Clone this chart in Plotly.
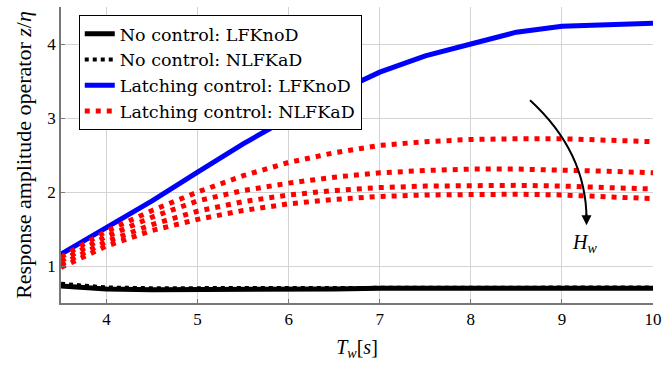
import plotly.graph_objects as go

Tw = [3.5, 4, 4.5, 5, 5.5, 6, 6.5, 7, 7.5, 8, 8.5, 9, 9.5, 10]

nc_lfknod = [0.73, 0.69, 0.68, 0.68, 0.68, 0.69, 0.69, 0.70, 0.70, 0.70, 0.70, 0.70, 0.70, 0.70]
nc_nlfkad = [0.76, 0.71, 0.70, 0.70, 0.70, 0.70, 0.71, 0.71, 0.71, 0.71, 0.71, 0.71, 0.71, 0.71]
lc_lfknod = [1.16, 1.52, 1.88, 2.27, 2.65, 3.00, 3.33, 3.62, 3.84, 4.00, 4.16, 4.24, 4.26, 4.28]
lc_nlfkad = [
    [1.12, 1.47, 1.75, 2.00, 2.22, 2.40, 2.53, 2.63, 2.68, 2.71, 2.72, 2.72, 2.70, 2.68],
    [1.07, 1.40, 1.66, 1.88, 2.02, 2.12, 2.20, 2.26, 2.29, 2.31, 2.31, 2.30, 2.28, 2.26],
    [1.02, 1.33, 1.56, 1.74, 1.87, 1.96, 2.02, 2.06, 2.08, 2.09, 2.09, 2.08, 2.06, 2.04],
    [0.98, 1.27, 1.48, 1.63, 1.75, 1.84, 1.90, 1.94, 1.96, 1.97, 1.97, 1.96, 1.94, 1.91],
]

x_ticks = [4, 5, 6, 7, 8, 9, 10]
y_ticks = [1, 2, 3, 4]

FONT = "Liberation Serif"
LFONT = "DejaVu Serif"

fig = go.Figure()
fig.add_trace(go.Scatter(x=Tw, y=nc_lfknod, mode="lines", name="No control: LFKnoD",
                         line=dict(color="black", width=5)))
fig.add_trace(go.Scatter(x=Tw, y=nc_nlfkad, mode="lines", name="No control: NLFKaD",
                         line=dict(color="black", width=4, dash="4px,4px")))
fig.add_trace(go.Scatter(x=Tw, y=lc_lfknod, mode="lines", name="Latching control: LFKnoD",
                         line=dict(color="#0000ff", width=5)))
for i, ys in enumerate(lc_nlfkad):
    fig.add_trace(go.Scatter(x=Tw, y=ys, mode="lines", name="Latching control: NLFKaD",
                             showlegend=(i == 0), legendgroup="lc_nl",
                             line=dict(color="#ff0000", width=5, dash="5px,6px")))

# curved arrow for H_w
fig.add_shape(type="path", xref="x", yref="y",
              path="M 8.65 3.24 Q 9.27 2.54 9.27 1.63",
              line=dict(color="black", width=2))
fig.add_annotation(x=9.27, y=1.55, ax=9.27, ay=1.72, axref="x", ayref="y",
                   xref="x", yref="y", text="", showarrow=True,
                   arrowhead=2, arrowsize=1, arrowwidth=2, arrowcolor="black")
fig.add_annotation(x=9.25, y=1.31, xref="x", yref="y",
                   text="<i>H<sub>w</sub></i>", showarrow=False,
                   font=dict(family=FONT, size=20, color="black"))

fig.update_layout(
    template="none",
    width=664, height=367,
    margin=dict(l=61, r=11, t=7, b=64, pad=0, autoexpand=False),
    paper_bgcolor="white", plot_bgcolor="white",
    font=dict(family=FONT, size=17, color="black"),
    showlegend=True,
    legend=dict(x=0.03, y=0.973, xanchor="left", yanchor="top",
                bgcolor="white", bordercolor="black", borderwidth=1,
                font=dict(family=LFONT, size=17.5, color="black"),
                tracegroupgap=0),
)
fig.update_xaxes(range=[3.5, 10], tickvals=x_ticks, ticktext=[str(v) for v in x_ticks],
                 showgrid=True, gridcolor="#d3d3d3", gridwidth=1,
                 showline=True, linecolor="#777777", linewidth=1.5,
                 ticks="inside", ticklen=4, tickcolor="#777777",
                 zeroline=False, automargin=False,
                 title=dict(text="<i>T<sub>w</sub></i>[<i>s</i>]", font=dict(family=FONT, size=20), standoff=12),
                 tickfont=dict(family=FONT, size=17))
fig.update_yaxes(range=[0.5, 4.5], tickvals=y_ticks, ticktext=[str(v) for v in y_ticks],
                 showgrid=True, gridcolor="#d3d3d3", gridwidth=1,
                 showline=True, linecolor="#777777", linewidth=1.5,
                 ticks="inside", ticklen=4, tickcolor="#777777",
                 zeroline=False, automargin=False,
                 title=dict(text="Response amplitude operator <i>z</i>/<i>η</i>", font=dict(family=FONT, size=22), standoff=10),
                 tickfont=dict(family=FONT, size=17))

fig.write_html("out.html", config={"displayModeBar": False},
               post_script="document.body.style.margin='0';")
